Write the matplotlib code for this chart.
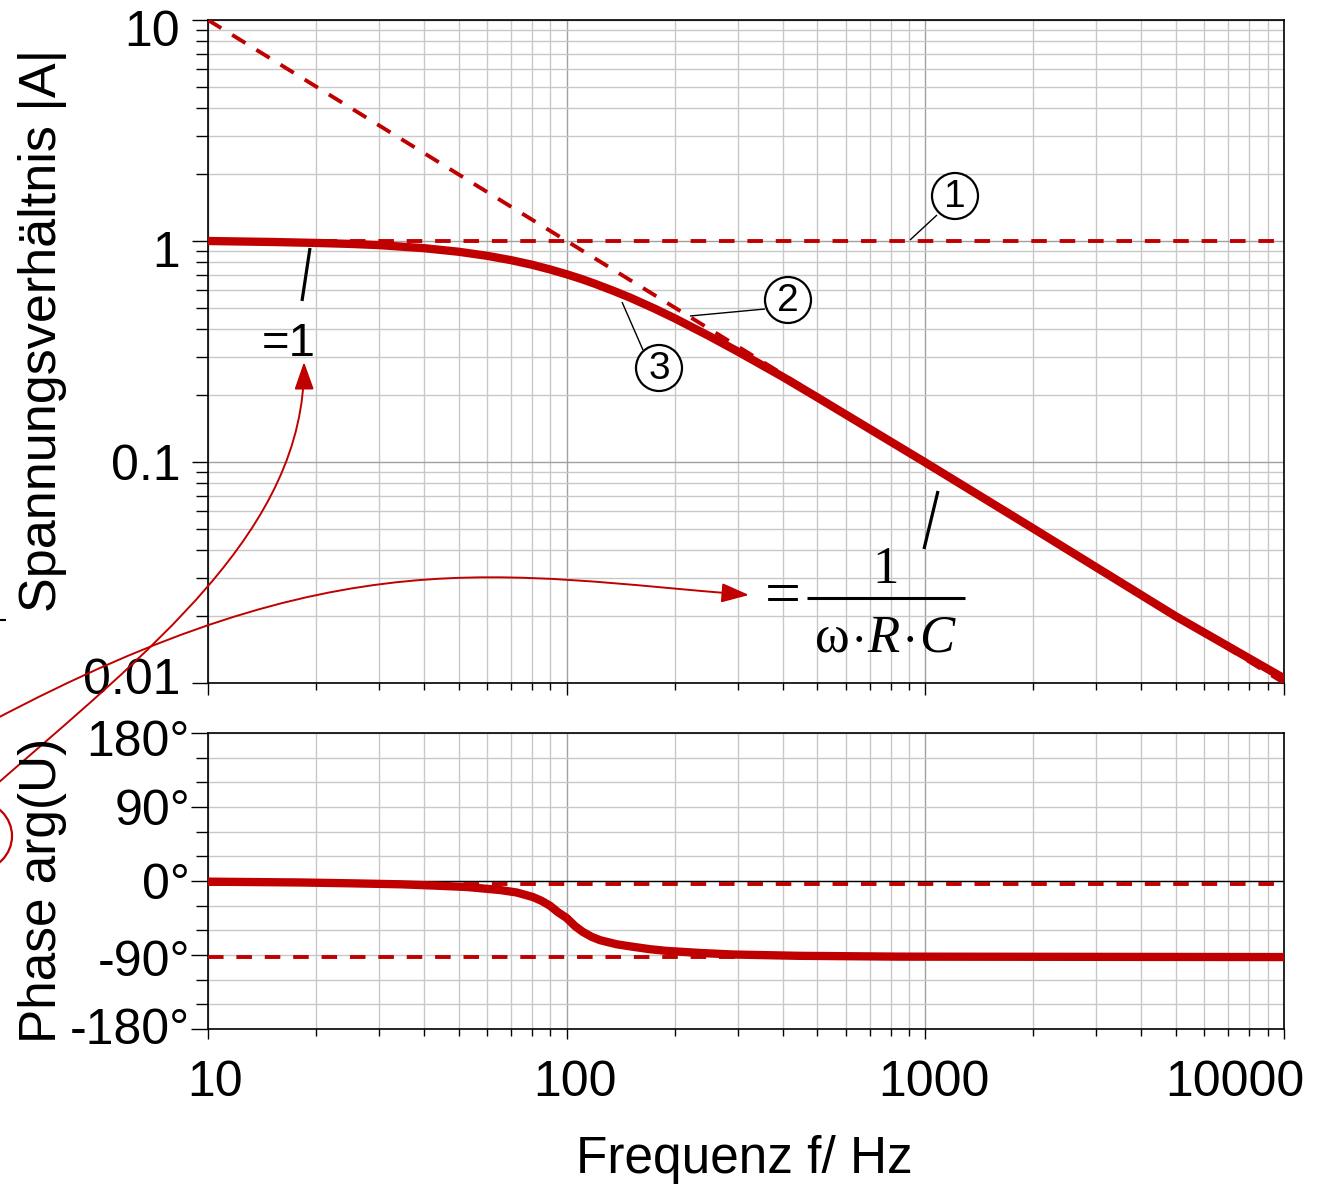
import matplotlib
matplotlib.use("Agg")
import matplotlib.pyplot as plt
from matplotlib.path import Path
from matplotlib.patches import FancyArrowPatch, Circle, ArrowStyle
from matplotlib.lines import Line2D
from matplotlib.ticker import FixedLocator, NullFormatter, FixedFormatter, LogLocator
import matplotlib.transforms as mtransforms

# ---------------- data ----------------
freq_mag = [10, 15, 20, 25, 30, 40, 50, 60, 70, 80, 90, 100, 110, 120, 135, 150,
            175, 200, 250, 300, 400, 500, 700, 1000, 2000, 5000, 10000]
magnitude = [1.0, 0.99, 0.98, 0.97, 0.958, 0.928, 0.894, 0.857, 0.819, 0.781,
             0.743, 0.707, 0.673, 0.64, 0.595, 0.555, 0.496, 0.447, 0.371, 0.316,
             0.243, 0.196, 0.141, 0.0995, 0.05, 0.02, 0.0105]

asym1_freq = [10, 10000]
asym1_val = [1.0, 1.0]
asym2_freq = [10, 10000]
asym2_val = [10.0, 0.01]

freq_phase = [10, 18.1, 24.9, 34.3, 42.4, 52.7, 65.3, 72.6, 80.5, 85, 89.8, 94.6,
              100, 105.6, 111, 117.5, 124, 138, 153, 171, 190, 235, 291, 445, 850,
              10000]
phase = [-0.8, -1.8, -2.8, -4, -5.5, -7.3, -11, -14, -19.5, -24, -30, -38, -45,
         -55, -62, -68, -72, -77, -80, -83, -85, -87.5, -89.4, -91, -92, -92.5]

phase_asym_freq = [10, 10000]
phase_asym_0 = [-4, -4]
phase_asym_90 = [-92, -92]

mag_ticks = [0.01, 0.1, 1, 10]
mag_ticklabels = ["0.01", "0.1", "1", "10"]
phase_ticks = [-180, -90, 0, 90, 180]
phase_ticklabels = ["-180°", "-90°", "0°", "90°", "180°"]
phase_minor = [-150, -120, -60, -30, 30, 60, 120, 150]
freq_ticks = [10, 100, 1000, 10000]
freq_ticklabels = ["10", "100", "1000", "10000"]

# ---------------- figure ----------------
W, H = 1318, 1184
plt.rcParams["font.family"] = ["Liberation Sans", "DejaVu Sans"]
plt.rcParams["mathtext.fontset"] = "custom"
plt.rcParams["mathtext.rm"] = "Liberation Serif"
plt.rcParams["mathtext.it"] = "Liberation Serif:italic"

fig = plt.figure(figsize=(W / 100, H / 100), dpi=100)
ax1 = fig.add_axes([208 / W, 1 - 683 / H, 1076 / W, 663 / H])
ax2 = fig.add_axes([208 / W, 1 - 1029 / H, 1076 / W, 296 / H])

RED = "#C00000"
MAJ_GRID = "#a0a0a0"
MIN_GRID = "#c8c8c8"

for ax in (ax1, ax2):
    ax.set_xscale("log")
    ax.set_xlim(10, 10000)
    ax.xaxis.set_major_locator(FixedLocator(freq_ticks))
    ax.xaxis.set_minor_locator(LogLocator(base=10, subs=range(2, 10), numticks=100))
    ax.xaxis.set_minor_formatter(NullFormatter())
    ax.set_axisbelow(True)
    for s in ax.spines.values():
        s.set_color("black")
        s.set_linewidth(1.2)

# ---- magnitude panel ----
ax1.set_yscale("log")
ax1.set_ylim(0.01, 10)
ax1.yaxis.set_major_locator(FixedLocator(mag_ticks))
ax1.yaxis.set_major_formatter(FixedFormatter(mag_ticklabels))
ax1.yaxis.set_minor_locator(LogLocator(base=10, subs=range(2, 10), numticks=100))
ax1.yaxis.set_minor_formatter(NullFormatter())
ax1.grid(True, which="major", color=MAJ_GRID, lw=1.0)
ax1.grid(True, which="minor", color=MIN_GRID, lw=1.0)
ax1.tick_params(axis="x", which="major", direction="out", length=8.6, width=1, labelbottom=False)
ax1.tick_params(axis="x", which="minor", direction="out", length=5, width=1)
ax1.tick_params(axis="y", which="major", direction="out", length=11.5, width=1,
                labelsize=36, pad=8.5)
ax1.tick_params(axis="y", which="minor", direction="out", length=8.6, width=1)

dash = (4, 3.3)
ax1.plot(asym1_freq, asym1_val, color=RED, lw=2.8, ls=(0, dash), zorder=3)
ax1.plot(asym2_freq, asym2_val, color=RED, lw=2.8, ls=(0, dash), zorder=3)
ax1.plot(freq_mag, magnitude, color=RED, lw=6.0, solid_capstyle="butt",
         solid_joinstyle="round", zorder=4)

# ---- phase panel ----
ax2.set_ylim(-180, 180)
ax2.yaxis.set_major_locator(FixedLocator(phase_ticks))
ax2.yaxis.set_major_formatter(FixedFormatter(phase_ticklabels))
ax2.yaxis.set_minor_locator(FixedLocator(phase_minor))
ax2.grid(True, axis="x", which="major", color=MAJ_GRID, lw=1.0)
ax2.grid(True, axis="x", which="minor", color=MIN_GRID, lw=1.0)
ax2.grid(True, axis="y", which="both", color="#c8c8c8", lw=1.0)
ax2.axhline(0, color="black", lw=1.0, zorder=1.5)
ax2.tick_params(axis="x", which="major", direction="out", length=7.5, width=1,
                labelsize=36, pad=15)
ax2.tick_params(axis="x", which="minor", direction="out", length=5, width=1)
ax2.tick_params(axis="y", which="major", direction="out", length=12, width=1,
                labelsize=36, pad=1)
ax2.tick_params(axis="y", which="minor", direction="out", length=9, width=1)
ax2.set_xticklabels(freq_ticklabels)

ax2.plot(phase_asym_freq, phase_asym_0, color=RED, lw=2.8, ls=(0, dash), zorder=3)
ax2.plot(phase_asym_freq, phase_asym_90, color=RED, lw=2.8, ls=(0, dash), zorder=3)
ax2.plot(freq_phase, phase, color=RED, lw=6.0, solid_capstyle="butt",
         solid_joinstyle="round", zorder=4)


# ---- small tick-label offsets (pixels) ----
def shift(ticks, offsets):
    for t, (dx, dy) in zip(ticks, offsets):
        t.label1.set_transform(t.label1.get_transform() +
                               mtransforms.ScaledTranslation(dx / 100, dy / 100, fig.dpi_scale_trans))


shift(ax1.yaxis.get_major_ticks(), [(0, 7), (0, 0), (0, -8), (0, -8)])
shift(ax2.yaxis.get_major_ticks(), [(0, 3), (0, -3), (0, 0), (0, 0), (0, -5)])
shift(ax2.xaxis.get_major_ticks(), [(7, 0), (8, 0), (9, 0), (-49, 0)])

# ---- axis titles ----
def P(x, y):
    return (x / 100, (H - y) / 100)

T = fig.dpi_scale_trans
fig.text(*P(744, 1173), "Frequenz f/ Hz", transform=T, fontsize=37,
         ha="center", va="baseline")
fig.text(*P(56, 330), "Spannungsverhältnis |A|", transform=T, fontsize=37.5,
         rotation=90, rotation_mode="anchor", ha="center", va="baseline")
fig.text(*P(56, 890), "Phase arg(U)", transform=T, fontsize=37,
         rotation=90, rotation_mode="anchor", ha="center", va="baseline")

# ---- annotations ----
def line(p0, p1, color="black", lw=1.0):
    fig.add_artist(Line2D([P(*p0)[0], P(*p1)[0]], [P(*p0)[1], P(*p1)[1]],
                          transform=T, color=color, lw=lw, solid_capstyle="butt"))

# leader lines + circled numbers
line((910, 240), (937, 215))
line((690, 316), (765, 309))
line((622, 302), (643, 350))
for (cx, cy, s) in [(955, 196, "1"), (788, 300, "2"), (659, 368, "3")]:
    fig.add_artist(Circle(P(cx, cy), 23 / 100, transform=T, facecolor="white",
                          edgecolor="black", lw=1.6, zorder=5))
    fig.text(*P(cx, cy + 1), s, transform=T, fontsize=28, ha="center",
             va="center", zorder=6)

# "=1" text and slash
fig.text(*P(289, 356), "=1", transform=T, fontsize=34, ha="center", va="baseline")
line((310, 248), (302, 301), lw=2.3)
line((938, 491), (924, 549), lw=2.3)

# fraction
fig.text(*P(783, 614), "=", transform=T, fontsize=46, ha="center", va="baseline",
         family="Liberation Serif")
fig.text(*P(886, 583), "1", transform=T, fontsize=38, ha="center", va="baseline",
         family="Liberation Serif")
line((807, 598), (965, 598), lw=2.2)
fig.text(*P(885, 651),
         r"$\mathrm{\omega}\hspace{0.06}{\cdot}\hspace{0.06}R\hspace{0.06}{\cdot}\hspace{0.06}C$",
         transform=T, fontsize=38, ha="center", va="baseline")

# red curved arrows
def bez(pts):
    verts = [P(*p) for p in pts]
    return Path(verts, [Path.MOVETO, Path.CURVE4, Path.CURVE4, Path.CURVE4])

style = ArrowStyle("-|>", head_length=17, head_width=6)
fig.add_artist(FancyArrowPatch(path=bez([(-10, 790), (150, 650), (305, 530), (304, 362)]),
                               transform=T, arrowstyle=style, color=RED, lw=1.4,
                               mutation_scale=1))
fig.add_artist(FancyArrowPatch(path=bez([(-10, 722), (340, 536), (499, 575), (749, 595)]),
                               transform=T, arrowstyle=style, color=RED, lw=1.4,
                               mutation_scale=1))
fig.add_artist(Circle(P(-22, 836), 34 / 100, transform=T, facecolor="none",
                      edgecolor=RED, lw=1.6))
line((0, 620), (6, 620), lw=1.5)

fig.savefig("out.png", dpi=100)
